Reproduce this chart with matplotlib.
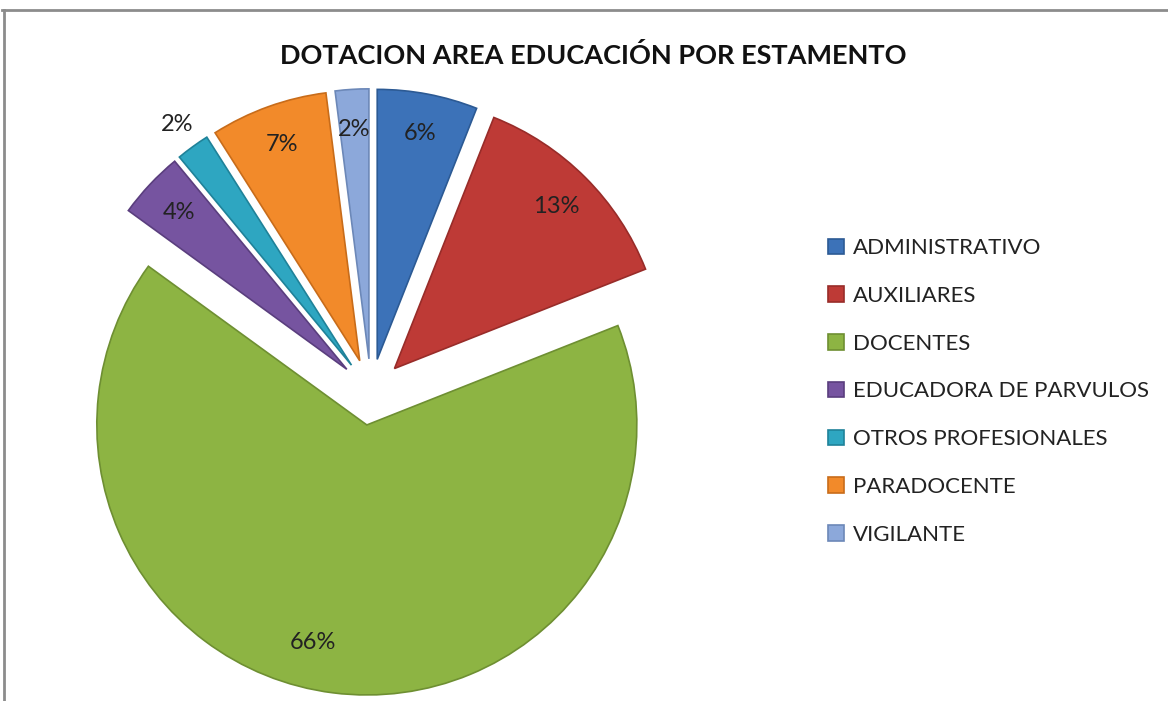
import matplotlib
matplotlib.use("Agg")
import matplotlib.pyplot as plt
from matplotlib.lines import Line2D
import numpy as np

categories = ["ADMINISTRATIVO", "AUXILIARES", "DOCENTES", "EDUCADORA DE PARVULOS",
              "OTROS PROFESIONALES", "PARADOCENTE", "VIGILANTE"]
values = [6, 13, 66, 4, 2, 7, 2]
colors = ["#3C72B8", "#BE3A36", "#8DB443", "#7654A0", "#2EA6C1", "#F28A2A", "#8CA8DA"]
edges = ["#2C5A94", "#982C29", "#6E8F32", "#5A3E7E", "#1F8299", "#C86C1A", "#6C88B8"]
title = "DOTACION AREA EDUCACIÓN POR ESTAMENTO"

plt.rcParams['font.family'] = ['Lato', 'DejaVu Sans']

W, H = 1168, 701
fig = plt.figure(figsize=(W / 100, H / 100), dpi=100)
fig.patch.set_facecolor("white")

# pie axes placed so that centre is at pixel (371, 392), radius 270 px
cx, cy, R = 371, 392, 270
L = 1.25
half = L * R
ax = fig.add_axes([(cx - half) / W, (H - cy - half) / H, 2 * half / W, 2 * half / H])
ax.set_xlim(-L, L)
ax.set_ylim(-L, L)
ax.set_aspect("equal")
ax.axis("off")

explode = [0.123] * len(values)
wedges, texts, autotexts = ax.pie(values, colors=colors, explode=explode, startangle=90,
                                  counterclock=False, autopct='%.0f%%', pctdistance=0.85,
                                  wedgeprops=dict(linewidth=1.2),
                                  textprops=dict(fontsize=17, color="#222222"))
for w, e in zip(wedges, edges):
    w.set_edgecolor(e)

# move the OTROS PROFESIONALES label outside its slice
i = categories.index("OTROS PROFESIONALES")
w = wedges[i]
ang = np.deg2rad((w.theta1 + w.theta2) / 2)
ox, oy = w.center
autotexts[i].set_position((ox + 1.1 * np.cos(ang), oy + 1.1 * np.sin(ang)))

# DOCENTES label sits a little left of the slice bisector (best-fit placement)
j = categories.index("DOCENTES")
w = wedges[j]
ox, oy = w.center
ang = np.deg2rad(-104)
autotexts[j].set_position((ox + 0.83 * np.cos(ang), oy + 0.83 * np.sin(ang)))

fig.text(593 / W, 1 - 55 / H, title, ha="center", va="center", fontsize=19.5,
         fontweight="bold", color="#111111")

leg = fig.legend(wedges, categories, loc="upper left",
                 bbox_to_anchor=(817 / W, 1 - 227 / H), frameon=False,
                 fontsize=16, handlelength=0.7, handleheight=0.7,
                 handletextpad=0.4, labelspacing=1.25, borderpad=0)
for t in leg.get_texts():
    t.set_color("#222222")

# outer frame (top and left edges visible)
fig.add_artist(Line2D([2 / W, 1.0], [1 - 10 / H, 1 - 10 / H], color="#8C8C8C", lw=2))
fig.add_artist(Line2D([3.5 / W, 3.5 / W], [0, 1 - 10 / H], color="#8C8C8C", lw=2))

fig.savefig("out.png", dpi=100, facecolor="white")
